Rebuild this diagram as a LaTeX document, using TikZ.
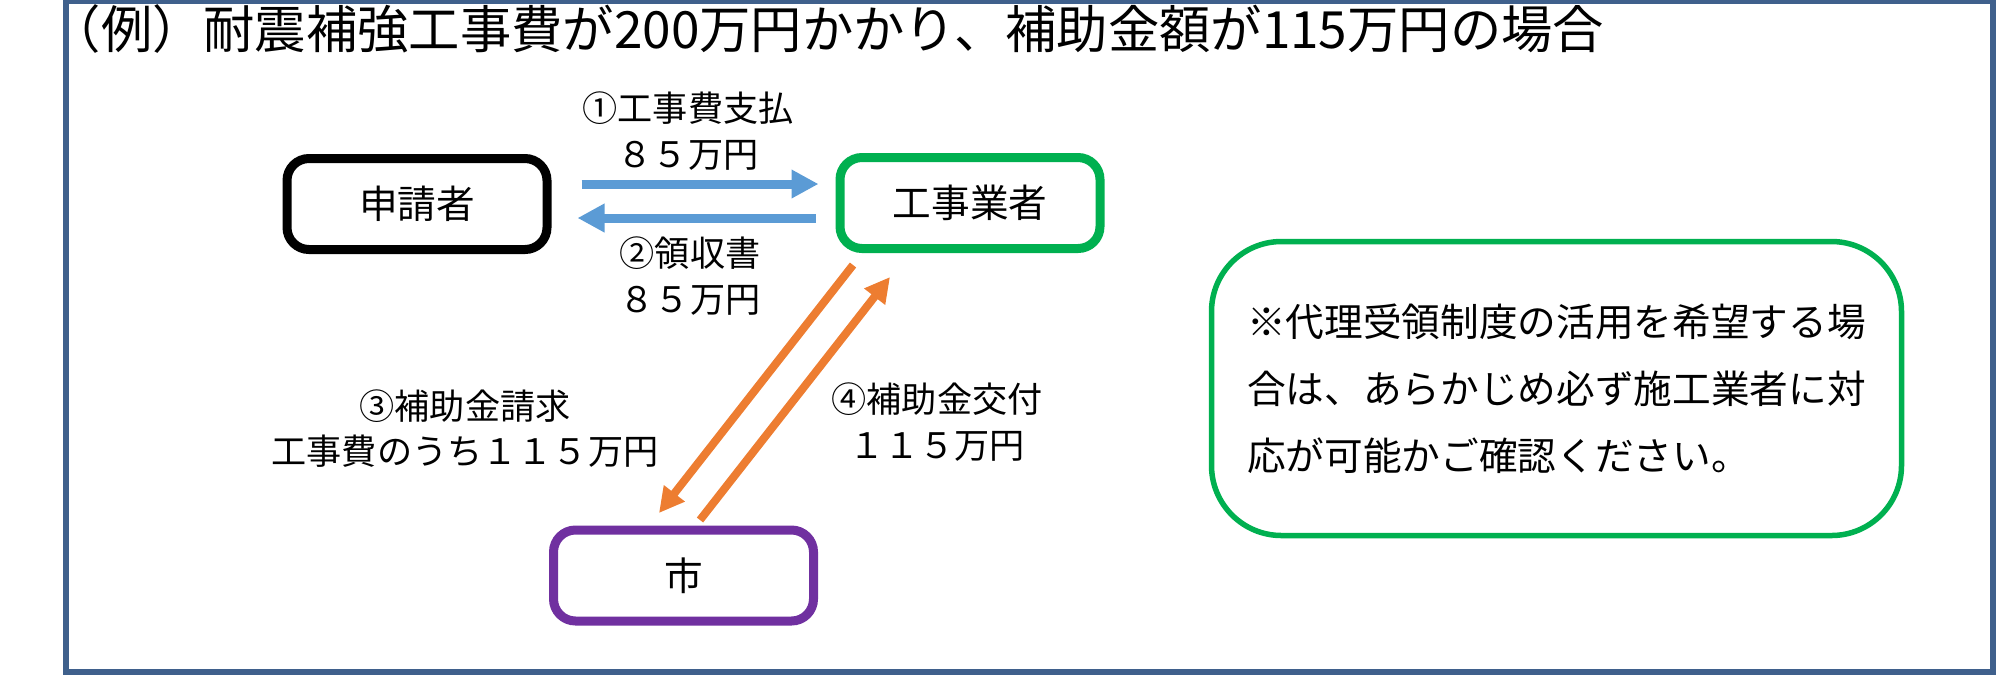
\documentclass[tikz,border=0pt]{standalone}
\usepackage{fontspec}
\setmainfont{Noto Sans CJK JP}
\usepackage{tikz}
\usetikzlibrary{positioning,calc,arrows.meta}
\definecolor{framebl}{RGB}{63,96,140}
\definecolor{arrowbl}{RGB}{91,155,213}
\definecolor{arroworg}{RGB}{237,125,49}
\definecolor{boxgrn}{RGB}{0,176,80}
\definecolor{boxprp}{RGB}{112,48,160}

\begin{document}
\begin{tikzpicture}[
  party/.style={rounded corners=2.2mm, line width=0.9mm, minimum width=2.6cm, minimum height=0.91cm, fill=white, font=\fontsize{11pt}{13pt}\selectfont},
  flowlbl/.style={align=center, inner sep=0pt, font=\fontsize{10pt}{13pt}\selectfont},
  bluearr/.style={draw=arrowbl, line width=0.9mm, -{Triangle[length=2.7mm,width=2.7mm]}},
  orgarr/.style={draw=arroworg, line width=0.8mm, -{Triangle[length=2.5mm,width=2.5mm]}}
]

\useasboundingbox (0,0) rectangle (20,-6.77);

\node [draw=framebl, line width=0.55mm, minimum width=19.27cm, minimum height=6.705cm, inner sep=0pt] (wrapper) at (10.295,-3.3675) {};

\node [anchor=west, inner sep=0pt, font=\fontsize{14.6pt}{16pt}\selectfont] (title) at (0.49,-0.29) {（例）耐震補強工事費が200万円かかり、補助金額が115万円の場合};

\node [party, draw=black] (app) at (4.17,-2.04) {申請者};
\node [party, draw=boxgrn] (con) at (9.70,-2.03) {工事業者};
\node [party, draw=boxprp] (city) at (6.835,-5.755) {市};

\node [draw=boxgrn, line width=0.55mm, rounded corners=7mm, minimum width=6.9cm, minimum height=2.94cm, align=left, font=\fontsize{11pt}{19pt}\selectfont] (note) at (15.565,-3.885) {※代理受領制度の活用を希望する場\\合は、あらかじめ必ず施工業者に対\\応が可能かご確認ください。};

\draw [bluearr] ($(app.east)+(0.3,0.2)$) -- ($(app.east -| con.west)+(-0.17,0.2)$);
\draw [bluearr] ($(app.east -| con.west)+(-0.2,-0.14)$) -- ($(app.east)+(0.26,-0.14)$);

\draw [orgarr] ($(con.south)+(-1.17,-0.12)$) -- ($(city.north)+(-0.245,0.125)$);
\draw [orgarr] ($(city.north)+(0.165,0.055)$) -- ($(con.south)+(-0.80,-0.24)$);

\node [flowlbl] (paylbl) at (6.88,-1.31) {①工事費支払\\８５万円};
\node [flowlbl] (rcptlbl) at (6.90,-2.76) {②領収書\\８５万円};
\node [flowlbl] (reqlbl) at (4.65,-4.285) {③補助金請求\\工事費のうち１１５万円};
\node [flowlbl] (grantlbl) at (9.37,-4.22) {④補助金交付\\１１５万円};

\end{tikzpicture}
\end{document}
